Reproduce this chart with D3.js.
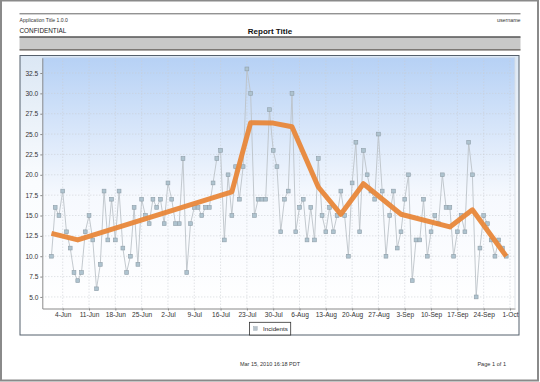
<!DOCTYPE html>
<html><head><meta charset="utf-8">
<script src="https://cdn.jsdelivr.net/npm/d3@7"></script>
<style>html,body{margin:0;padding:0;background:#fff}svg{display:block;font-family:"Liberation Sans",Arial,sans-serif}</style>
</head><body>
<svg id="c" width="540" height="382"></svg>
<script>
// ---- data ----
const startDate = "2010-06-01";
const juneValues = [10,16,15,18,13,11,8,7,8,13,15,12,6,9,18,12,17,12,18,11,8,10,16,9,17,15,14,17,16,17];
const julyValues = [14,19,17,14,14,22,8,14,16,16,15,16,16,19,22,23,12,20,15,21,17,21,33,30,15,17,17,17,28,23,21];
const augustValues = [13,17,18,30,13,16,17,12,16,12,22,15,13,16,13,15,18,15,10,19,24,13,23,20,18,17,25,18,10,15,18];
const septemberValues = [11,13,17,20,7,12,12,17,10,13,15,14,20,16,16,10,13,15,13,24,20,5,11,15,14,12,10,12,11,10];
const trendDates = ["2010-06-01","2010-06-08","2010-07-19","2010-07-24","2010-07-30","2010-08-04","2010-08-11","2010-08-17","2010-08-23","2010-09-02","2010-09-15","2010-09-21","2010-09-30"];
const trendValues = [12.8,12.0,17.9,26.4,26.35,25.9,18.5,15.15,18.9,15.15,13.6,15.7,10.0];
const xTickDates = ["2010-06-04","2010-06-11","2010-06-18","2010-06-25","2010-07-02","2010-07-09","2010-07-16","2010-07-23","2010-07-30","2010-08-06","2010-08-13","2010-08-20","2010-08-27","2010-09-03","2010-09-10","2010-09-17","2010-09-24","2010-10-01"];
const yTicks = [5,7.5,10,12.5,15,17.5,20,22.5,25,27.5,30,32.5];
const seriesName = "Incidents";
const appTitle = "Application Title 1.0.0", userName = "username", confidential = "CONFIDENTIAL", reportTitle = "Report Title";
const footerDate = "Mar 15, 2010 16:18 PDT", pageText = "Page 1 of 1";

// ---- build ----
const parse = d3.timeParse("%Y-%m-%d");
const allValues = juneValues.concat(julyValues, augustValues, septemberValues);
const d0 = parse(startDate);
const data = allValues.map((v,i)=>({date:d3.timeDay.offset(d0,i), value:v}));
const trend = trendDates.map((d,i)=>({date:parse(d), value:trendValues[i]}));

const svg = d3.select("#c");
const W=540,H=382;
const defs = svg.append("defs");
const g1 = defs.append("linearGradient").attr("id","plotBg").attr("x1",0).attr("y1",0).attr("x2",0).attr("y2",1);
g1.append("stop").attr("offset","0%").attr("stop-color","#b6d1f5");
g1.append("stop").attr("offset","55%").attr("stop-color","#f6f9fe");
g1.append("stop").attr("offset","100%").attr("stop-color","#ffffff");
const g2 = defs.append("linearGradient").attr("id","chartBg").attr("x1",0).attr("y1",0).attr("x2",0).attr("y2",1);
g2.append("stop").attr("offset","0%").attr("stop-color","#dbe7f4");
g2.append("stop").attr("offset","45%").attr("stop-color","#fafcfe");
g2.append("stop").attr("offset","100%").attr("stop-color","#ffffff");

svg.append("rect").attr("width",W).attr("height",H).attr("fill","#fff");
// page frame
svg.append("rect").attr("x",1).attr("y",0.5).attr("width",537).attr("height",380).attr("fill","none").attr("stroke","#8a8a8a").attr("stroke-width",2);

// header
svg.append("line").attr("x1",19.5).attr("x2",520.5).attr("y1",13.8).attr("y2",13.8).attr("stroke","#666").attr("stroke-width",1);
svg.append("text").attr("x",19.5).attr("y",21.5).attr("font-size",5.1).attr("fill","#333").text(appTitle);
svg.append("text").attr("x",520.5).attr("y",21.5).attr("font-size",5.3).attr("fill","#333").attr("text-anchor","end").text(userName);
svg.append("text").attr("x",19.5).attr("y",32.8).attr("font-size",6.4).attr("fill","#222").text(confidential);
svg.append("text").attr("x",270).attr("y",33.5).attr("font-size",8).attr("font-weight","bold").attr("fill","#111").attr("text-anchor","middle").text(reportTitle);
svg.append("rect").attr("x",19.5).attr("y",37).attr("width",501).attr("height",12.5).attr("fill","#c8c8c8");
svg.append("line").attr("x1",19.5).attr("x2",520.5).attr("y1",37).attr("y2",37).attr("stroke","#555").attr("stroke-width",1.3);
svg.append("line").attr("x1",19.5).attr("x2",520.5).attr("y1",49.8).attr("y2",49.8).attr("stroke","#5a5550").attr("stroke-width",1.3);

// chart box
svg.append("rect").attr("x",20).attr("y",55.5).attr("width",499).attr("height",279.5).attr("fill","url(#chartBg)").attr("stroke","#55606c").attr("stroke-width",1);

const L=42.3,R=515,T=57.7,B=308.5;
const x = d3.scaleTime().domain([new Date(2010,4,29,13,40), new Date(2010,9,2,8)]).range([L,R]);
const y = d3.scaleLinear().domain([3.58,34.38]).range([B,T]);

svg.append("rect").attr("x",L).attr("y",T).attr("width",R-L).attr("height",B-T).attr("fill","url(#plotBg)");

const xt = xTickDates.map(parse);
// grid
svg.append("g").selectAll("line").data(xt).join("line")
  .attr("x1",d=>x(d)).attr("x2",d=>x(d)).attr("y1",T).attr("y2",B)
  .attr("stroke","#c9cdd2").attr("stroke-width",0.8).attr("stroke-dasharray","1,2");
svg.append("g").selectAll("line").data(yTicks).join("line")
  .attr("x1",L).attr("x2",R).attr("y1",d=>y(d)).attr("y2",d=>y(d))
  .attr("stroke","#c9cdd2").attr("stroke-width",0.8).attr("stroke-dasharray","1,2");

// axes
const fmt = d3.timeFormat("%-d-%b");
const xAxis = svg.append("g").attr("transform",`translate(0,${B})`)
  .call(d3.axisBottom(x).tickValues(xt).tickFormat(fmt).tickSizeInner(2).tickSizeOuter(0).tickPadding(2));
const yAxis = svg.append("g").attr("transform",`translate(${L},0)`)
  .call(d3.axisLeft(y).tickValues(yTicks).tickFormat(d3.format(".1f")).tickSizeInner(2).tickSizeOuter(0).tickPadding(2));
[xAxis,yAxis].forEach(a=>{
  a.select(".domain").attr("stroke","#8a8a8a");
  a.selectAll(".tick line").attr("stroke","#8a8a8a");
  a.selectAll("text").attr("font-family","Liberation Sans, Arial, sans-serif").attr("font-size",6.6).attr("fill","#333");
});
svg.append("line").attr("x1",R).attr("x2",R).attr("y1",T).attr("y2",B).attr("stroke","#d8dde3").attr("stroke-width",0.8);
svg.append("line").attr("x1",L).attr("x2",R).attr("y1",T).attr("y2",T).attr("stroke","#c8d8ec").attr("stroke-width",0.8);

// series line + points
const line = d3.line().x(d=>x(d.date)).y(d=>y(d.value));
svg.append("path").datum(data).attr("d",line).attr("fill","none").attr("stroke","#bcc3c8").attr("stroke-width",0.9);
svg.append("g").selectAll("rect").data(data).join("rect")
  .attr("x",d=>x(d.date)-1.9).attr("y",d=>y(d.value)-1.9).attr("width",3.8).attr("height",3.8)
  .attr("fill","#aec3cf").attr("stroke","#8f9ea8").attr("stroke-width",0.6);

// trend
svg.append("path").datum(trend).attr("d",line).attr("fill","none").attr("stroke","#e8873a").attr("stroke-opacity",0.95)
  .attr("stroke-width",5).attr("stroke-linejoin","round").attr("stroke-linecap","butt");

// legend
const lg = svg.append("g");
lg.append("rect").attr("x",249.5).attr("y",322.3).attr("width",41.2).attr("height",12.7).attr("fill","#fff").attr("stroke","#333").attr("stroke-width",0.8);
lg.append("rect").attr("x",253.6).attr("y",326.7).attr("width",3.6).attr("height",3.6).attr("fill","#b8c4cc").attr("stroke","#a0acb4").attr("stroke-width",0.5);
lg.append("text").attr("x",263).attr("y",330.8).attr("font-size",6.2).attr("fill","#222").text(seriesName);

// footer
svg.append("text").attr("x",270).attr("y",366).attr("font-size",5.5).attr("fill","#333").attr("text-anchor","middle").text(footerDate);
svg.append("text").attr("x",506).attr("y",366).attr("font-size",5.6).attr("fill","#333").attr("text-anchor","end").text(pageText);
</script>
</body></html>
